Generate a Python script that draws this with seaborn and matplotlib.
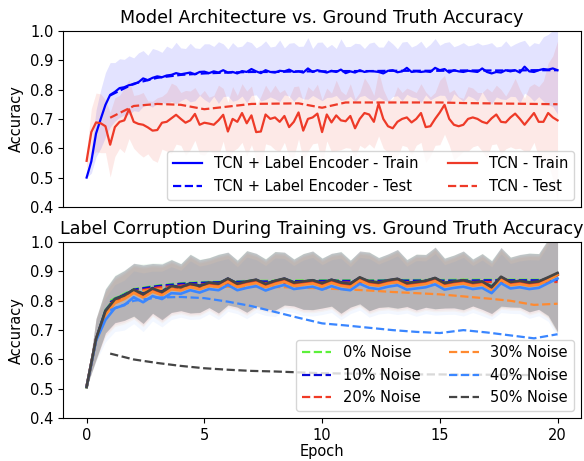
import numpy as np
import seaborn as sns
import matplotlib.pyplot as plt

# epochs: train curves logged every 0.2 (top) / 0.4 (bottom), test once per epoch
top_epochs = np.arange(101) * 0.2
bot_epochs = np.arange(51) * 0.4
test_epochs = np.arange(1, 21)

# --- Model architecture (top) ---
enc_train = [0.500, 0.555, 0.650, 0.700, 0.748, 0.782, 0.792, 0.805, 0.808, 0.815,
             0.818, 0.825, 0.838, 0.832, 0.840, 0.845, 0.842, 0.848, 0.850, 0.856,
             0.852, 0.855, 0.858, 0.852, 0.860, 0.861, 0.856, 0.862, 0.858, 0.866,
             0.858, 0.860, 0.855, 0.863, 0.860, 0.870, 0.862, 0.856, 0.866, 0.860,
             0.858, 0.864, 0.862, 0.868, 0.860, 0.862, 0.858, 0.872, 0.860, 0.866,
             0.862, 0.858, 0.864, 0.860, 0.868, 0.856, 0.862, 0.858, 0.866, 0.860,
             0.863, 0.862, 0.860, 0.855, 0.864, 0.866, 0.859, 0.862, 0.874, 0.860,
             0.862, 0.860, 0.862, 0.860, 0.874, 0.866, 0.870, 0.858, 0.866, 0.862,
             0.860, 0.864, 0.862, 0.860, 0.872, 0.860, 0.855, 0.860, 0.858, 0.866,
             0.862, 0.866, 0.858, 0.878, 0.862, 0.860, 0.866, 0.870, 0.868, 0.872,
             0.866]
enc_std = [0.00, 0.04, 0.08, 0.10, 0.11, 0.11, 0.10, 0.10, 0.095, 0.10,
           0.09, 0.10, 0.095, 0.085, 0.10, 0.09, 0.085, 0.10, 0.09, 0.105,
           0.09, 0.085, 0.10, 0.09, 0.08, 0.095, 0.10, 0.085, 0.105, 0.09,
           0.08, 0.10, 0.09, 0.085, 0.105, 0.09, 0.08, 0.095, 0.10, 0.085,
           0.09, 0.105, 0.08, 0.09, 0.10, 0.085, 0.09, 0.105, 0.08, 0.095,
           0.10, 0.085, 0.09, 0.08, 0.105, 0.09, 0.085, 0.10, 0.09, 0.08,
           0.095, 0.10, 0.085, 0.09, 0.105, 0.09, 0.08, 0.10, 0.09, 0.085,
           0.09, 0.105, 0.08, 0.095, 0.10, 0.085, 0.09, 0.105, 0.08, 0.09,
           0.10, 0.085, 0.09, 0.10, 0.08, 0.095, 0.105, 0.085, 0.09, 0.10,
           0.085, 0.09, 0.105, 0.09, 0.085, 0.10, 0.09, 0.11, 0.12, 0.13,
           0.15]
enc_test = [0.780, 0.820, 0.840, 0.850, 0.855, 0.858, 0.860, 0.860, 0.862, 0.862,
            0.863, 0.863, 0.864, 0.864, 0.864, 0.865, 0.865, 0.865, 0.866, 0.866]

tcn_train = [0.557, 0.655, 0.688, 0.685, 0.675, 0.612, 0.672, 0.690, 0.695, 0.733,
             0.690, 0.683, 0.680, 0.671, 0.660, 0.662, 0.687, 0.690, 0.702, 0.714,
             0.700, 0.687, 0.695, 0.717, 0.680, 0.687, 0.684, 0.680, 0.695, 0.714,
             0.657, 0.700, 0.690, 0.720, 0.685, 0.712, 0.655, 0.657, 0.715, 0.700,
             0.705, 0.690, 0.710, 0.672, 0.690, 0.722, 0.660, 0.700, 0.705, 0.718,
             0.655, 0.715, 0.688, 0.712, 0.695, 0.692, 0.710, 0.668, 0.700, 0.720,
             0.715, 0.690, 0.752, 0.700, 0.675, 0.668, 0.690, 0.700, 0.705, 0.688,
             0.700, 0.720, 0.672, 0.675, 0.700, 0.722, 0.748, 0.700, 0.680, 0.675,
             0.680, 0.700, 0.705, 0.700, 0.690, 0.685, 0.702, 0.715, 0.690, 0.688,
             0.705, 0.718, 0.700, 0.680, 0.700, 0.720, 0.690, 0.690, 0.720, 0.705,
             0.695]
tcn_std = [0.03, 0.08, 0.10, 0.10, 0.09, 0.11, 0.10, 0.09, 0.11, 0.10,
           0.09, 0.10, 0.11, 0.09, 0.10, 0.11, 0.09, 0.10, 0.12, 0.10,
           0.09, 0.11, 0.10, 0.09, 0.10, 0.11, 0.09, 0.10, 0.12, 0.09,
           0.10, 0.11, 0.09, 0.10, 0.11, 0.10, 0.09, 0.12, 0.10, 0.09,
           0.11, 0.10, 0.09, 0.10, 0.12, 0.09, 0.10, 0.11, 0.09, 0.10,
           0.11, 0.09, 0.10, 0.12, 0.10, 0.09, 0.11, 0.10, 0.09, 0.12,
           0.10, 0.09, 0.11, 0.10, 0.09, 0.10, 0.12, 0.09, 0.10, 0.11,
           0.09, 0.10, 0.12, 0.10, 0.09, 0.11, 0.10, 0.09, 0.12, 0.10,
           0.09, 0.11, 0.10, 0.09, 0.10, 0.12, 0.09, 0.10, 0.11, 0.09,
           0.10, 0.12, 0.10, 0.09, 0.11, 0.10, 0.12, 0.14, 0.17, 0.21,
           0.27]
tcn_test = [0.704, 0.744, 0.751, 0.748, 0.733, 0.742, 0.751, 0.752, 0.753, 0.738,
            0.756, 0.756, 0.756, 0.756, 0.756, 0.754, 0.753, 0.752, 0.751, 0.750]

# --- Label corruption (bottom) ---
noise_labels = ["0% Noise", "10% Noise", "20% Noise", "30% Noise", "40% Noise", "50% Noise"]
noise_colors = ["#5cf03a", "#0a0ad8", "#f03a26", "#ff8a30", "#3a86ff", "#454545"]

train_n0 = [0.505, 0.668, 0.768, 0.808, 0.820, 0.836, 0.826, 0.844, 0.834, 0.852,
            0.848, 0.860, 0.852, 0.862, 0.860, 0.874, 0.860, 0.866, 0.870, 0.860,
            0.868, 0.874, 0.864, 0.866, 0.868, 0.862, 0.870, 0.864, 0.860, 0.876,
            0.866, 0.864, 0.868, 0.873, 0.862, 0.864, 0.868, 0.876, 0.862, 0.866,
            0.868, 0.864, 0.866, 0.850, 0.878, 0.864, 0.866, 0.864, 0.866, 0.876, 0.888]
train_n10 = [0.506, 0.669, 0.766, 0.806, 0.819, 0.837, 0.824, 0.843, 0.832, 0.851,
             0.847, 0.859, 0.851, 0.861, 0.859, 0.875, 0.859, 0.865, 0.871, 0.858,
             0.867, 0.875, 0.863, 0.865, 0.869, 0.861, 0.871, 0.863, 0.859, 0.878,
             0.865, 0.863, 0.869, 0.874, 0.861, 0.863, 0.867, 0.877, 0.861, 0.865,
             0.869, 0.863, 0.865, 0.848, 0.880, 0.863, 0.867, 0.863, 0.865, 0.878, 0.892]
train_n20 = [0.508, 0.668, 0.758, 0.798, 0.812, 0.832, 0.816, 0.836, 0.824, 0.844,
             0.840, 0.852, 0.844, 0.856, 0.852, 0.870, 0.852, 0.860, 0.866, 0.851,
             0.862, 0.870, 0.856, 0.860, 0.864, 0.854, 0.866, 0.856, 0.852, 0.874,
             0.860, 0.856, 0.864, 0.869, 0.854, 0.858, 0.862, 0.872, 0.854, 0.860,
             0.864, 0.856, 0.860, 0.840, 0.876, 0.858, 0.862, 0.856, 0.860, 0.874, 0.888]
train_n30 = [0.506, 0.667, 0.752, 0.792, 0.806, 0.827, 0.811, 0.831, 0.819, 0.839,
             0.835, 0.847, 0.839, 0.851, 0.847, 0.865, 0.847, 0.855, 0.861, 0.846,
             0.857, 0.865, 0.851, 0.855, 0.859, 0.849, 0.861, 0.851, 0.847, 0.869,
             0.855, 0.851, 0.859, 0.864, 0.849, 0.853, 0.857, 0.867, 0.849, 0.855,
             0.859, 0.851, 0.855, 0.836, 0.871, 0.853, 0.857, 0.851, 0.855, 0.870, 0.890]
train_n40 = [0.507, 0.664, 0.735, 0.775, 0.785, 0.812, 0.795, 0.816, 0.806, 0.826,
             0.824, 0.836, 0.828, 0.840, 0.836, 0.854, 0.836, 0.844, 0.850, 0.835,
             0.846, 0.854, 0.840, 0.844, 0.848, 0.838, 0.850, 0.840, 0.836, 0.858,
             0.844, 0.840, 0.848, 0.853, 0.838, 0.842, 0.846, 0.856, 0.838, 0.844,
             0.848, 0.840, 0.844, 0.826, 0.860, 0.842, 0.846, 0.840, 0.844, 0.860, 0.876]
train_n50 = [0.507, 0.670, 0.765, 0.805, 0.818, 0.838, 0.822, 0.842, 0.830, 0.850,
             0.846, 0.858, 0.850, 0.862, 0.858, 0.876, 0.858, 0.866, 0.872, 0.857,
             0.868, 0.876, 0.862, 0.866, 0.870, 0.860, 0.872, 0.862, 0.858, 0.880,
             0.866, 0.862, 0.870, 0.875, 0.860, 0.864, 0.868, 0.878, 0.860, 0.866,
             0.870, 0.862, 0.866, 0.846, 0.882, 0.864, 0.868, 0.862, 0.866, 0.880, 0.895]
train_std = [0.00, 0.07, 0.075, 0.08, 0.085, 0.09, 0.10, 0.085, 0.095, 0.09,
             0.08, 0.10, 0.09, 0.085, 0.10, 0.09, 0.08, 0.105, 0.09, 0.085,
             0.10, 0.09, 0.08, 0.095, 0.10, 0.085, 0.09, 0.105, 0.08, 0.09,
             0.10, 0.085, 0.09, 0.10, 0.08, 0.095, 0.09, 0.105, 0.085, 0.09,
             0.10, 0.08, 0.095, 0.09, 0.10, 0.085, 0.09, 0.10, 0.095, 0.13, 0.20]

test_n0 = [0.800, 0.840, 0.852, 0.860, 0.864, 0.866, 0.868, 0.868, 0.869, 0.870,
           0.870, 0.870, 0.871, 0.871, 0.871, 0.872, 0.872, 0.872, 0.872, 0.872]
test_n10 = [0.795, 0.838, 0.850, 0.858, 0.862, 0.864, 0.866, 0.866, 0.867, 0.868,
            0.868, 0.868, 0.869, 0.869, 0.869, 0.869, 0.870, 0.870, 0.870, 0.870]
test_n20 = [0.790, 0.832, 0.845, 0.852, 0.856, 0.858, 0.860, 0.861, 0.861, 0.862,
            0.862, 0.862, 0.863, 0.863, 0.863, 0.864, 0.864, 0.864, 0.864, 0.864]
test_n30 = [0.790, 0.830, 0.840, 0.845, 0.848, 0.848, 0.848, 0.847, 0.845, 0.842,
            0.839, 0.835, 0.830, 0.826, 0.822, 0.815, 0.808, 0.800, 0.786, 0.790]
test_n40 = [0.768, 0.800, 0.811, 0.813, 0.809, 0.797, 0.782, 0.762, 0.742, 0.723,
            0.716, 0.708, 0.700, 0.694, 0.690, 0.700, 0.692, 0.682, 0.672, 0.686]
test_n50 = [0.620, 0.600, 0.588, 0.578, 0.570, 0.565, 0.561, 0.559, 0.556, 0.553,
            0.552, 0.551, 0.550, 0.549, 0.549, 0.548, 0.548, 0.547, 0.547, 0.546]

train_runs = [train_n0, train_n10, train_n20, train_n30, train_n40, train_n50]
test_runs = [test_n0, test_n10, test_n20, test_n30, test_n40, test_n50]
band_alpha = [0.06, 0.06, 0.06, 0.06, 0.06, 0.25]

plt.rcParams["font.size"] = 10.5

fig, (ax1, ax2) = plt.subplots(2, 1, figsize=(5.84, 4.61), dpi=100, sharex=True)
fig.subplots_adjust(left=0.108, right=0.995, top=0.933, bottom=0.093, hspace=0.2)

blue, red = "#0000ff", "#ee3a28"

# top panel
m, s = np.array(enc_train), np.array(enc_std)
ax1.fill_between(top_epochs, m - s, m + s, color=blue, alpha=0.11, linewidth=0)
m, s = np.array(tcn_train), np.array(tcn_std)
ax1.fill_between(top_epochs, m - s, m + s, color=red, alpha=0.11, linewidth=0)
sns.lineplot(x=top_epochs, y=enc_train, ax=ax1, color=blue, linewidth=1.6,
             label="TCN + Label Encoder - Train")
sns.lineplot(x=test_epochs, y=enc_test, ax=ax1, color=blue, linestyle="--", linewidth=1.6,
             label="TCN + Label Encoder - Test")
sns.lineplot(x=top_epochs, y=tcn_train, ax=ax1, color=red, linewidth=1.6, label="TCN - Train")
sns.lineplot(x=test_epochs, y=tcn_test, ax=ax1, color=red, linestyle="--", linewidth=1.6,
             label="TCN - Test")
ax1.legend(ncol=2, loc="lower right")
ax1.set_title("Model Architecture vs. Ground Truth Accuracy")
ax1.set_ylabel("Accuracy")
ax1.set_ylim(0.4, 1.0)
ax1.tick_params(axis="x", bottom=False, labelbottom=False)

# bottom panel
for tr, te, c, lab, a in zip(train_runs, test_runs, noise_colors, noise_labels, band_alpha):
    m, s = np.array(tr), np.array(train_std)
    ax2.fill_between(bot_epochs, m - s, m + s, color=c, alpha=a, linewidth=0)
    sns.lineplot(x=bot_epochs, y=tr, ax=ax2, color=c, linewidth=1.9)
    sns.lineplot(x=test_epochs, y=te, ax=ax2, color=c, linestyle="--", linewidth=1.6, label=lab)
ax2.legend(ncol=2, loc="lower right")
ax2.set_title("Label Corruption During Training vs. Ground Truth Accuracy")
ax2.set_ylabel("Accuracy")
ax2.set_xlabel("Epoch", labelpad=1)
ax2.set_ylim(0.4, 1.0)
ax2.set_xticks([0, 5, 10, 15, 20])

plt.savefig("out.png", dpi=100)
